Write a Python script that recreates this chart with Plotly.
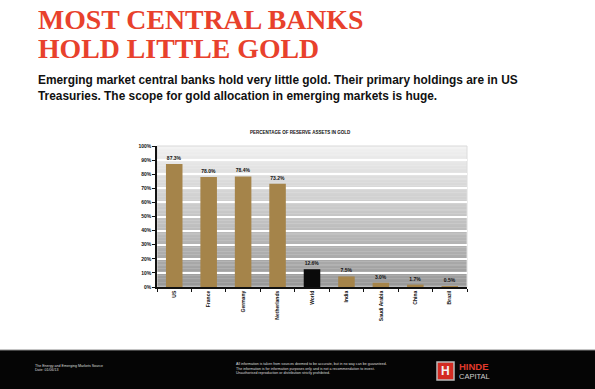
import plotly.graph_objects as go

categories = ["US", "France", "Germany", "Netherlands", "World", "India", "Saudi Arabia", "China", "Brazil"]
gold_share = [87.3, 78.0, 78.4, 73.2, 12.6, 7.5, 3.0, 1.7, 0.5]
bar_colors = ["#a5844a"] * 4 + ["#0a0a0a"] + ["#a5844a"] * 4
y_ticks = list(range(0, 101, 10))
y_ticktext = [f"{v}%" for v in y_ticks]

W, H = 595, 389
L, R, T, B = 157, 467, 146, 287


def px(x):
    return (x - L) / (R - L)


def py(y):
    return (B - y) / (B - T)


fig = go.Figure()
fig.add_trace(go.Bar(
    x=categories, y=gold_share, marker_color=bar_colors, marker_line_width=0,
    texttemplate="%{y:.1f}%", textposition="outside", cliponaxis=False,
    textfont=dict(size=5, color="#111", family="Liberation Sans", weight="bold"),
))

shapes = []
# gradient background for plot area
n = 100
for i in range(n):
    t = i / (n - 1)
    g = int(0x99 + (0xf1 - 0x99) * t)
    shapes.append(dict(type="rect", xref="paper", yref="paper", x0=0, x1=1,
                       y0=i / n, y1=(i + 1) / n + 0.002, fillcolor=f"rgb({g},{g},{g})",
                       line_width=0, layer="below"))
shapes.append(dict(type="rect", xref="paper", yref="paper", x0=0, x1=1, y0=0, y1=1,
                   line=dict(color="#dcdcdc", width=1), layer="below"))
# footer band
shapes.append(dict(type="rect", xref="paper", yref="paper", x0=px(0), x1=px(W),
                   y0=py(H), y1=py(350), fillcolor="#050505", line_width=0))
shapes.append(dict(type="line", xref="paper", yref="paper", x0=px(0), x1=px(W),
                   y0=py(350), y1=py(350), line=dict(color="#888", width=1)))
# logo box
shapes.append(dict(type="rect", xref="paper", yref="paper", x0=px(437), x1=px(454),
                   y0=py(380), y1=py(362), fillcolor="#d32b22",
                   line=dict(color="#bbbbbb", width=1.5)))
fig.update_layout(shapes=shapes)

ann = []
title_font = dict(family="Liberation Serif", size=27.8, color="#e8412c", weight="bold")
ann.append(dict(text="MOST CENTRAL BANKS", x=px(36), y=py(19), font=title_font, height=26))
ann.append(dict(text="HOLD LITTLE GOLD", x=px(36), y=py(48), font=title_font, height=26))
sub_font = dict(family="Liberation Sans", size=11.9, color="#111", weight="bold")
ann.append(dict(text="Emerging market central banks hold very little gold. Their primary holdings are in US",
                x=px(36), y=py(80), font=sub_font))
ann.append(dict(text="Treasuries. The scope for gold allocation in emerging markets is huge.",
                x=px(36), y=py(96), font=sub_font))
for a in ann:
    a.update(xref="paper", yref="paper", xanchor="left", yanchor="middle", showarrow=False)

more = []
more.append(dict(text="PERCENTAGE OF RESERVE ASSETS IN GOLD", x=px(300), y=py(132), xanchor="center",
                 font=dict(family="Liberation Sans", size=4.5, color="#111", weight="bold")))
ff = dict(family="Liberation Sans", size=3.6, color="#dddddd")
more.append(dict(text="The Energy and Emerging Markets Source", x=px(33), y=py(366), xanchor="left", font=ff))
more.append(dict(text="Date: 01/06/13", x=px(33), y=py(370), xanchor="left", font=ff))
more.append(dict(text="All information is taken from sources deemed to be accurate, but in no way can be guaranteed.",
                 x=px(234), y=py(364), xanchor="left", font=ff))
more.append(dict(text="The information is for information purposes only and is not a recommendation to invest.",
                 x=px(234), y=py(368.5), xanchor="left", font=ff))
more.append(dict(text="Unauthorised reproduction or distribution strictly prohibited.",
                 x=px(234), y=py(373), xanchor="left", font=ff))
more.append(dict(text="H", x=px(445.5), y=py(371), xanchor="center",
                 font=dict(family="Liberation Sans", size=12, color="#f3f3f3", weight="bold")))
more.append(dict(text="HINDE", x=px(457), y=py(366), xanchor="left",
                 font=dict(family="Liberation Sans", size=9.5, color="#e0392b", weight="bold")))
more.append(dict(text="CAPITAL", x=px(457), y=py(376), xanchor="left",
                 font=dict(family="Liberation Sans", size=7.5, color="#cfcfcf")))
for a in more:
    a.update(xref="paper", yref="paper", yanchor="middle", showarrow=False)

fig.update_layout(
    annotations=ann + more,
    width=W, height=H,
    margin=dict(l=L, r=W - R, t=T, b=H - B, pad=0),
    paper_bgcolor="white", plot_bgcolor="rgba(0,0,0,0)",
    showlegend=False, bargap=0.52,
    xaxis=dict(showgrid=False, showline=True, linecolor="#111", linewidth=1.5,
               ticks="outside", tickson="boundaries", ticklen=3, tickcolor="#111",
               tickangle=-90,
               tickfont=dict(family="Liberation Sans", size=5, color="#111", weight="bold")),
    yaxis=dict(range=[0, 100], tickvals=y_ticks, ticktext=y_ticktext, showgrid=True,
               gridcolor="white", gridwidth=1.5, zeroline=False, showline=True,
               linecolor="#111", linewidth=1.5, ticks="outside", ticklen=3, tickcolor="#111",
               tickfont=dict(family="Liberation Sans", size=5, color="#111", weight="bold")),
)

fig.write_html("out.html")
